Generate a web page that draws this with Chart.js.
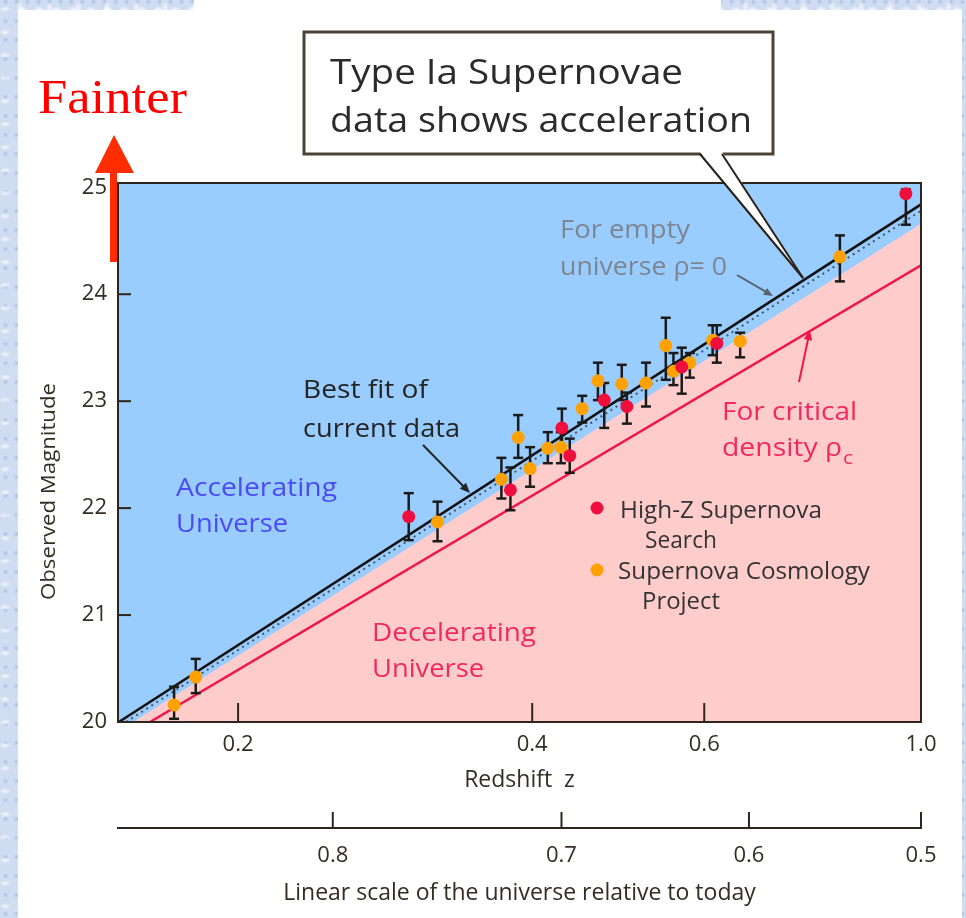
<!DOCTYPE html>
<html>
<head>
<meta charset="utf-8">
<title>Type Ia Supernovae</title>
<script src="https://cdn.jsdelivr.net/npm/chart.js@4.4.1/dist/chart.umd.min.js"></script>
<style>
  html, body { margin: 0; padding: 0; }
  body {
    width: 966px; height: 918px; position: relative; overflow: hidden;
    background-color: #cfdcf1;
    background-image:
      radial-gradient(ellipse 6px 3px at 30% 40%, rgba(255,255,255,0.8), transparent),
      radial-gradient(ellipse 4px 7px at 70% 60%, rgba(255,255,255,0.7), transparent),
      radial-gradient(ellipse 3px 3px at 50% 10%, rgba(160,185,225,0.8), transparent);
    background-size: 17px 23px, 29px 13px, 11px 19px;
  }
  #paper { position: absolute; left: 18px; top: 10px; width: 944px; height: 908px; background: #fff; }
  #strip { position: absolute; left: 194px; top: 0; width: 527px; height: 10px; background: #fff; }
  #chart { position: absolute; left: 0; top: 0; }
</style>
</head>
<body>
<div id="paper"></div>
<div id="strip"></div>
<canvas id="chart" width="966" height="918"></canvas>
<script>
'use strict';

// axis ranges and tick values
var zMin = 0.1507;
var zMax = 1.0;
var magMin = 20;
var magMax = 25.04;
var redshiftTicks = [0.2, 0.4, 0.6, 1.0];
var magnitudeTicks = [20, 21, 22, 23, 24, 25];
var scaleFactorTicks = [0.8, 0.7, 0.6, 0.5];

// High-Z Supernova Search (red)
var highZRedshift = [0.299, 0.380, 0.429, 0.437, 0.474, 0.500, 0.569, 0.618, 0.965];
var highZMag      = [21.92, 22.17, 22.75, 22.49, 23.01, 22.95, 23.32, 23.54, 24.94];
var highZLow      = [21.70, 21.98, 22.57, 22.33, 22.75, 22.79, 23.07, 23.36, 24.65];
var highZHigh     = [22.14, 22.38, 22.93, 22.65, 23.17, 23.08, 23.50, 23.71, 24.98];

// Supernova Cosmology Project (orange)
var scpRedshift = [0.172, 0.181, 0.320, 0.372, 0.387, 0.398, 0.415, 0.428, 0.450, 0.467,
                   0.494, 0.523, 0.548, 0.558, 0.580, 0.612, 0.653, 0.826];
var scpMag      = [20.16, 20.42, 21.87, 22.27, 22.66, 22.37, 22.56, 22.57, 22.93, 23.19,
                   23.16, 23.17, 23.52, 23.28, 23.36, 23.57, 23.56, 24.35];
var scpLow      = [20.03, 20.27, 21.69, 22.09, 22.47, 22.20, 22.42, 22.42, 22.80, 23.01,
                   23.01, 22.95, 23.20, 23.15, 23.22, 23.43, 23.41, 24.12];
var scpHigh     = [20.33, 20.59, 22.06, 22.47, 22.87, 22.57, 22.71, 22.71, 23.05, 23.36,
                   23.34, 23.36, 23.78, 23.45, 23.45, 23.71, 23.64, 24.55];

// model curves (straight on the log redshift axis)
var bestFitRedshift = [0.1510, 1.0];
var bestFitMag      = [20.0, 24.84];
var emptyRedshift   = [0.1536, 1.0];
var emptyMag        = [20.0, 24.78];
var boundaryRedshift = [0.1561, 1.0];
var boundaryMag      = [20.0, 24.66];
var criticalRedshift = [0.1625, 1.0];
var criticalMag      = [20.0, 24.27];

var axisColor = '#2e261c';
var labelColor = '#342d22';
var blueFill = '#99ccff';
var pinkFill = '#ffcccc';
var redLine = '#f0164a';
var redDot = '#ee0f3c';
var orangeDot = '#ffa200';
var barColor = '#1b1b1b';
var sans = '"Open Sans", "Noto Sans", sans-serif';

function pts(xs, ys) {
  return xs.map(function (x, i) { return {x: x, y: ys[i]}; });
}

function errorBars(xs, lo, hi) {
  var out = [];
  for (var i = 0; i < xs.length; i++) {
    out.push({x: xs[i], y: lo[i]}, {x: xs[i], y: hi[i]}, {x: xs[i], y: null});
  }
  return out;
}

// text squeezed/stretched to the width it has in the picture
function fitText(ctx, str, x, y, right, size, color, family) {
  ctx.save();
  ctx.font = size + 'px ' + (family || sans);
  var w = ctx.measureText(str).width;
  ctx.translate(x, y);
  ctx.scale((right - x) / w, 1);
  ctx.fillStyle = color;
  ctx.textBaseline = 'alphabetic';
  ctx.textAlign = 'left';
  ctx.fillText(str, 0, 0);
  ctx.restore();
}

function arrow(ctx, x1, y1, x2, y2, color, head) {
  var ang = Math.atan2(y2 - y1, x2 - x1);
  ctx.save();
  ctx.strokeStyle = color;
  ctx.fillStyle = color;
  ctx.lineWidth = 2;
  ctx.beginPath();
  ctx.moveTo(x1, y1);
  ctx.lineTo(x2 - Math.cos(ang) * head * 0.8, y2 - Math.sin(ang) * head * 0.8);
  ctx.stroke();
  ctx.beginPath();
  ctx.moveTo(x2, y2);
  ctx.lineTo(x2 - head * Math.cos(ang - 0.4), y2 - head * Math.sin(ang - 0.4));
  ctx.lineTo(x2 - head * Math.cos(ang + 0.4), y2 - head * Math.sin(ang + 0.4));
  ctx.closePath();
  ctx.fill();
  ctx.restore();
}

function seg(ctx, x1, y1, x2, y2) {
  ctx.beginPath();
  ctx.moveTo(x1, y1);
  ctx.lineTo(x2, y2);
  ctx.stroke();
}

var decor = {
  id: 'decor',
  beforeDatasetsDraw: function (chart) {
    var a = chart.chartArea, ctx = chart.ctx;
    ctx.save();
    ctx.fillStyle = blueFill;
    ctx.fillRect(a.left, a.top, a.right - a.left, a.bottom - a.top);
    ctx.restore();
  },
  afterDatasetsDraw: function (chart) {
    var a = chart.chartArea, ctx = chart.ctx;
    var xs = chart.scales.x, ys = chart.scales.y, x2 = chart.scales.x2;
    ctx.save();

    // frame and inner tick marks
    ctx.strokeStyle = axisColor;
    ctx.lineWidth = 2;
    ctx.strokeRect(a.left, a.top, a.right - a.left, a.bottom - a.top);
    redshiftTicks.forEach(function (v) {
      if (v < zMax) {
        var px = xs.getPixelForValue(v);
        seg(ctx, px, a.bottom, px, a.bottom - 19);
      }
    });
    magnitudeTicks.forEach(function (v) {
      if (v > magMin && v < 25) {
        var py = ys.getPixelForValue(v);
        seg(ctx, a.left, py, a.left + 13, py);
      }
    });
    scaleFactorTicks.forEach(function (s) {
      var px = x2.getPixelForValue(1 / s - 1);
      seg(ctx, px, x2.top, px, x2.top - 16);
    });

    // y title
    ctx.save();
    ctx.translate(55, 600);
    ctx.rotate(-Math.PI / 2);
    fitText(ctx, 'Observed Magnitude', 0, 0, 217, 20, labelColor);
    ctx.restore();

    // "Fainter" with red arrow
    fitText(ctx, 'Fainter', 38, 113, 187, 48, '#ff0000', '"Liberation Serif", "DejaVu Serif", serif');
    ctx.fillStyle = '#ff2d00';
    ctx.fillRect(110, 172, 7, 90);
    ctx.beginPath();
    ctx.moveTo(95, 173);
    ctx.lineTo(134, 173);
    ctx.lineTo(114, 135);
    ctx.closePath();
    ctx.fill();

    // callout box
    ctx.fillStyle = '#ffffff';
    ctx.strokeStyle = '#4d4236';
    ctx.lineWidth = 3;
    ctx.fillRect(304, 32, 469, 122);
    ctx.strokeRect(304, 32, 469, 122);
    ctx.beginPath();
    ctx.moveTo(700, 152);
    ctx.lineTo(803, 278);
    ctx.lineTo(722, 152);
    ctx.closePath();
    ctx.fill();
    ctx.lineWidth = 2;
    ctx.strokeStyle = '#2a2218';
    seg(ctx, 700, 154, 803, 278);
    seg(ctx, 722, 154, 803, 278);
    fitText(ctx, 'Type Ia Supernovae', 330, 84, 683, 34, '#2b2b2b');
    fitText(ctx, 'data shows acceleration', 330, 132, 752, 34, '#2b2b2b');

    // labels inside the plot
    var grey = '#7d8591', dark = '#242424', pinkText = '#f2295f', blueText = '#4b4bf2';
    fitText(ctx, 'For empty', 560, 238, 690, 26, grey);
    fitText(ctx, 'universe \u03c1= 0', 560, 275, 727, 26, grey);
    arrow(ctx, 737, 275, 773, 296, '#5a6270', 10);

    fitText(ctx, 'Best fit of', 303, 398, 428, 25, dark);
    fitText(ctx, 'current data', 303, 437, 460, 25, dark);
    arrow(ctx, 423, 445, 470, 493, dark, 11);

    fitText(ctx, 'For critical', 722, 420, 857, 26, pinkText);
    fitText(ctx, 'density \u03c1', 722, 456, 842, 26, pinkText);
    fitText(ctx, 'c', 843, 464, 853, 18, pinkText);
    arrow(ctx, 799, 382, 810, 330, redLine, 11);

    fitText(ctx, 'Accelerating', 176, 496, 337, 26, blueText);
    fitText(ctx, 'Universe', 176, 532, 288, 26, blueText);
    fitText(ctx, 'Decelerating', 372, 641, 536, 26, pinkText);
    fitText(ctx, 'Universe', 372, 677, 484, 26, pinkText);

    // legend
    ctx.fillStyle = redDot;
    ctx.beginPath(); ctx.arc(597, 508, 6.5, 0, Math.PI * 2); ctx.fill();
    ctx.fillStyle = orangeDot;
    ctx.beginPath(); ctx.arc(597, 570, 6.5, 0, Math.PI * 2); ctx.fill();
    fitText(ctx, 'High-Z Supernova', 620, 518, 822, 23, '#333333');
    fitText(ctx, 'Search', 645, 548, 717, 23, '#333333');
    fitText(ctx, 'Supernova Cosmology', 618, 579, 870, 23, '#333333');
    fitText(ctx, 'Project', 642, 609, 720, 23, '#333333');

    ctx.restore();
  }
};

var tickFont = {family: sans, size: 22};
var titleFont = {family: sans, size: 23};

var ctx = document.getElementById('chart').getContext('2d');
var chart = new Chart(ctx, {
  type: 'line',
  data: {
    datasets: [
      {
        label: 'High-Z Supernova Search',
        data: pts(highZRedshift, highZMag),
        showLine: false, pointRadius: 6.5, pointBorderWidth: 0,
        pointBackgroundColor: redDot, order: 0
      },
      {
        label: 'Supernova Cosmology Project',
        data: pts(scpRedshift, scpMag),
        showLine: false, pointRadius: 6.5, pointBorderWidth: 0,
        pointBackgroundColor: orangeDot, order: 1
      },
      {
        label: 'High-Z error',
        data: errorBars(highZRedshift, highZLow, highZHigh),
        borderColor: barColor, borderWidth: 2.5, spanGaps: false,
        pointStyle: 'line', pointRadius: 5, pointBorderColor: barColor, pointBorderWidth: 2.5,
        order: 2
      },
      {
        label: 'SCP error',
        data: errorBars(scpRedshift, scpLow, scpHigh),
        borderColor: barColor, borderWidth: 2.5, spanGaps: false,
        pointStyle: 'line', pointRadius: 5, pointBorderColor: barColor, pointBorderWidth: 2.5,
        order: 3
      },
      {
        label: 'Best fit',
        data: pts(bestFitRedshift, bestFitMag),
        borderColor: '#111111', borderWidth: 2.5, pointRadius: 0, order: 4
      },
      {
        label: 'Empty universe',
        data: pts(emptyRedshift, emptyMag),
        borderColor: '#4a5560', borderWidth: 2, borderDash: [2, 4], pointRadius: 0, order: 5
      },
      {
        label: 'Critical density',
        data: pts(criticalRedshift, criticalMag),
        borderColor: redLine, borderWidth: 2.5, pointRadius: 0, order: 6
      },
      {
        label: 'Decelerating',
        data: pts(boundaryRedshift, boundaryMag),
        borderWidth: 0, pointRadius: 0, fill: 'start', backgroundColor: pinkFill, order: 7
      }
    ]
  },
  options: {
    responsive: false,
    animation: false,
    events: [],
    layout: {padding: {left: 0, top: 183, right: 45, bottom: 0}},
    plugins: {legend: {display: false}, tooltip: {enabled: false}},
    scales: {
      x: {
        type: 'logarithmic', position: 'bottom', min: zMin, max: zMax,
        afterBuildTicks: function (s) { s.ticks = redshiftTicks.map(function (v) { return {value: v}; }); },
        afterFit: function (s) { s.height = 106; },
        grid: {display: false, drawTicks: false},
        border: {display: true, color: axisColor, width: 2},
        ticks: {
          padding: 10, color: labelColor, font: tickFont, maxRotation: 0, autoSkip: false,
          callback: function (v, i) { return redshiftTicks[i].toFixed(1); }
        },
        title: {display: true, text: 'Redshift  z', color: labelColor, font: titleFont, padding: {top: 0, bottom: 34}}
      },
      x2: {
        type: 'logarithmic', position: 'bottom', min: zMin, max: zMax,
        afterBuildTicks: function (s) { s.ticks = scaleFactorTicks.map(function (a) { return {value: 1 / a - 1}; }); },
        afterFit: function (s) { s.height = 90; },
        grid: {display: false, drawTicks: false},
        border: {display: true, color: axisColor, width: 2},
        ticks: {
          padding: 15, color: labelColor, font: tickFont, maxRotation: 0, autoSkip: false,
          callback: function (v, i) { return scaleFactorTicks[i].toFixed(1); }
        },
        title: {display: true, text: 'Linear scale of the universe relative to today', color: labelColor, font: titleFont, padding: {top: 0, bottom: 11}}
      },
      y: {
        type: 'linear', min: magMin, max: magMax,
        afterBuildTicks: function (s) { s.ticks = magnitudeTicks.map(function (v) { return {value: v}; }); },
        afterFit: function (s) { s.width = 118; },
        grid: {display: false, drawTicks: false},
        border: {display: true, color: axisColor, width: 2},
        ticks: {padding: 11, color: labelColor, font: tickFont, callback: function (v) { return String(v); }}
      }
    }
  },
  plugins: [decor]
});
</script>
</body>
</html>
